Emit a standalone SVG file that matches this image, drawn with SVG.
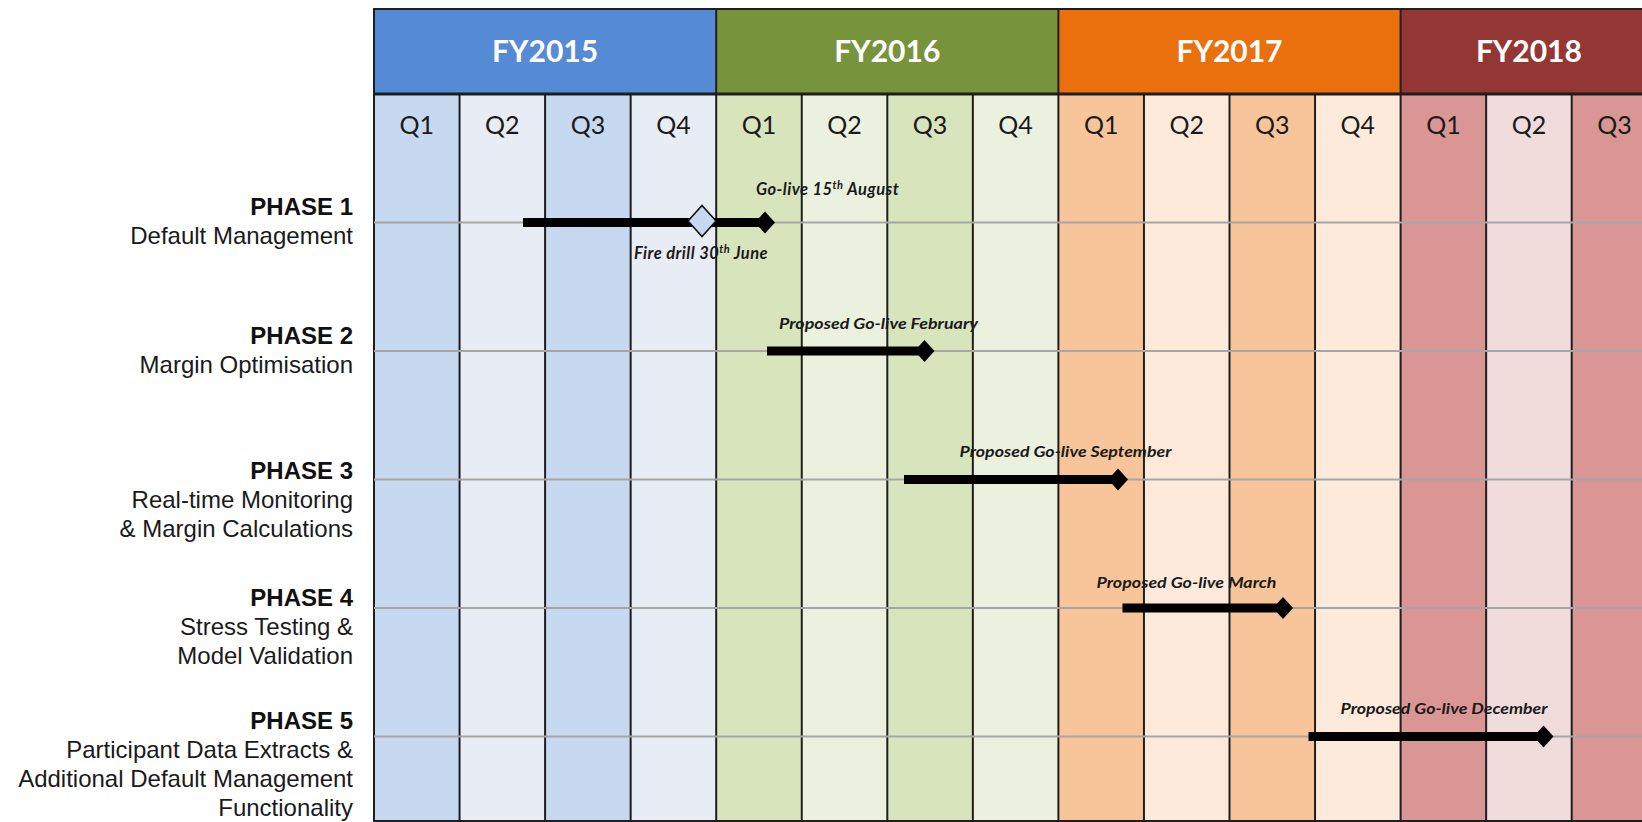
<svg xmlns="http://www.w3.org/2000/svg" width="1642" height="822" viewBox="0 0 1642 822">
<style>
.fy{font-family:Lato,"Liberation Sans",sans-serif;font-weight:700;font-size:30px;fill:#ffffff;text-anchor:middle}
.q{font-family:Lato,"Liberation Sans",sans-serif;font-size:25px;fill:#1a1a1a;text-anchor:middle}
.ph{font-family:"Liberation Sans",Arial,sans-serif;font-size:24px;fill:#1a1a1a;text-anchor:end}
.phb{font-weight:700;fill:#111111}
.ms{font-family:Lato,"Liberation Sans",sans-serif;font-weight:700;font-style:italic;font-size:15.5px;fill:#1a1a1a}
.ms2{font-size:16.5px;letter-spacing:0.45px}
.div{stroke:#1e1e1e;stroke-width:2}
.grid{stroke:#a6a6a6;stroke-width:2}
.bar{fill:#000000}
</style>
<rect width="1642" height="822" fill="#ffffff"/>
<g id="columns">
<rect x="374" y="94" width="85.55" height="727" fill="#c6d9f0"/>
<rect x="459.55" y="94" width="85.55" height="727" fill="#e8ecf5"/>
<rect x="545.1" y="94" width="85.55" height="727" fill="#c6d9f0"/>
<rect x="630.65" y="94" width="85.55" height="727" fill="#e8ecf5"/>
<rect x="716.2" y="94" width="85.55" height="727" fill="#d7e4bc"/>
<rect x="801.75" y="94" width="85.55" height="727" fill="#ebf1de"/>
<rect x="887.3" y="94" width="85.55" height="727" fill="#d7e4bc"/>
<rect x="972.85" y="94" width="85.55" height="727" fill="#ebf1de"/>
<rect x="1058.4" y="94" width="85.55" height="727" fill="#f8c59b"/>
<rect x="1143.95" y="94" width="85.55" height="727" fill="#fdeadb"/>
<rect x="1229.5" y="94" width="85.55" height="727" fill="#f8c59b"/>
<rect x="1315.05" y="94" width="85.55" height="727" fill="#fdeadb"/>
<rect x="1400.6" y="94" width="85.55" height="727" fill="#d99694"/>
<rect x="1486.15" y="94" width="85.55" height="727" fill="#f0dcdb"/>
<rect x="1571.7" y="94" width="85.55" height="727" fill="#d99694"/>
</g>
<g id="header">
<g id="fy2015"><rect x="374" y="9" width="342.2" height="85" fill="#558ad5"/><text class="fy" x="545.1" y="62">FY2015</text></g>
<g id="fy2016"><rect x="716.2" y="9" width="342.2" height="85" fill="#77933c"/><text class="fy" x="887.3" y="62">FY2016</text></g>
<g id="fy2017"><rect x="1058.4" y="9" width="342.2" height="85" fill="#ea700e"/><text class="fy" x="1229.5" y="62">FY2017</text></g>
<g id="fy2018"><rect x="1400.6" y="9" width="256.65" height="85" fill="#943634"/><text class="fy" x="1528.9" y="62">FY2018</text></g>
</g>
<g id="quarters">
<text class="q" x="416.8" y="134">Q1</text>
<text class="q" x="502.3" y="134">Q2</text>
<text class="q" x="587.9" y="134">Q3</text>
<text class="q" x="673.4" y="134">Q4</text>
<text class="q" x="759" y="134">Q1</text>
<text class="q" x="844.5" y="134">Q2</text>
<text class="q" x="930.1" y="134">Q3</text>
<text class="q" x="1015.6" y="134">Q4</text>
<text class="q" x="1101.2" y="134">Q1</text>
<text class="q" x="1186.7" y="134">Q2</text>
<text class="q" x="1272.3" y="134">Q3</text>
<text class="q" x="1357.8" y="134">Q4</text>
<text class="q" x="1443.4" y="134">Q1</text>
<text class="q" x="1528.9" y="134">Q2</text>
<text class="q" x="1614.5" y="134">Q3</text>
</g>
<g id="dividers">
<line class="div" x1="374" y1="8" x2="374" y2="822"/>
<line class="div" x1="459.55" y1="94" x2="459.55" y2="822"/>
<line class="div" x1="545.1" y1="94" x2="545.1" y2="822"/>
<line class="div" x1="630.65" y1="94" x2="630.65" y2="822"/>
<line class="div" x1="716.2" y1="9" x2="716.2" y2="822"/>
<line class="div" x1="801.75" y1="94" x2="801.75" y2="822"/>
<line class="div" x1="887.3" y1="94" x2="887.3" y2="822"/>
<line class="div" x1="972.85" y1="94" x2="972.85" y2="822"/>
<line class="div" x1="1058.4" y1="9" x2="1058.4" y2="822"/>
<line class="div" x1="1143.95" y1="94" x2="1143.95" y2="822"/>
<line class="div" x1="1229.5" y1="94" x2="1229.5" y2="822"/>
<line class="div" x1="1315.05" y1="94" x2="1315.05" y2="822"/>
<line class="div" x1="1400.6" y1="9" x2="1400.6" y2="822"/>
<line class="div" x1="1486.15" y1="94" x2="1486.15" y2="822"/>
<line class="div" x1="1571.7" y1="94" x2="1571.7" y2="822"/>
<line class="div" x1="373" y1="9" x2="1642" y2="9"/>
<line stroke="#1e1e1e" stroke-width="3" x1="373" y1="94" x2="1642" y2="94"/>
<line class="div" x1="373" y1="821" x2="1642" y2="821"/>
</g>
<g id="connectors">
<line class="grid" x1="374" y1="222.5" x2="1642" y2="222.5"/>
<line class="grid" x1="374" y1="351" x2="1642" y2="351"/>
<line class="grid" x1="374" y1="479.5" x2="1642" y2="479.5"/>
<line class="grid" x1="374" y1="608" x2="1642" y2="608"/>
<line class="grid" x1="374" y1="736.5" x2="1642" y2="736.5"/>
</g>
<g id="phase1">
<text class="ph" x="353"><tspan class="phb" x="353" y="215">PHASE 1</tspan><tspan x="353" y="244">Default Management</tspan></text>
<rect class="bar" x="523" y="218" width="242" height="9"/>
<polygon class="bar" points="755,222.5 765,211.5 775,222.5 765,233.5"/>
<polygon points="688,221 702,205.5 716,221 702,236.5" fill="#c6d9f0" stroke="#111111" stroke-width="1.6"/>
<text class="ms ms2" x="756" y="195">Go-live 15<tspan font-size="11" dy="-6">th</tspan><tspan dy="6"> August</tspan></text>
<text class="ms ms2" x="634" y="259">Fire drill 30<tspan font-size="11" dy="-6">th</tspan><tspan dy="6"> June</tspan></text>
</g>
<g id="phase2">
<text class="ph" x="353"><tspan class="phb" x="353" y="343.5">PHASE 2</tspan><tspan x="353" y="372.5">Margin Optimisation</tspan></text>
<rect class="bar" x="767" y="346.5" width="157.5" height="9"/>
<polygon class="bar" points="914.5,351 924.5,340 934.5,351 924.5,362"/>
<text class="ms" x="779" y="329" textLength="199" lengthAdjust="spacingAndGlyphs">Proposed Go-live February</text>
</g>
<g id="phase3">
<text class="ph" x="353"><tspan class="phb" x="353" y="478.5">PHASE 3</tspan><tspan x="353" y="507.5">Real-time Monitoring</tspan><tspan x="353" y="536.5">&amp; Margin Calculations</tspan></text>
<rect class="bar" x="904" y="475" width="214" height="9"/>
<polygon class="bar" points="1108,479.5 1118,468.5 1128,479.5 1118,490.5"/>
<text class="ms" x="959.5" y="457" textLength="212" lengthAdjust="spacingAndGlyphs">Proposed Go-live September</text>
</g>
<g id="phase4">
<text class="ph" x="353"><tspan class="phb" x="353" y="606">PHASE 4</tspan><tspan x="353" y="635">Stress Testing &amp;</tspan><tspan x="353" y="664">Model Validation</tspan></text>
<rect class="bar" x="1122.5" y="603.5" width="160.5" height="9"/>
<polygon class="bar" points="1273,608 1283,597 1293,608 1283,619"/>
<text class="ms" x="1096.5" y="588" textLength="180" lengthAdjust="spacingAndGlyphs">Proposed Go-live March</text>
</g>
<g id="phase5">
<text class="ph" x="353"><tspan class="phb" x="353" y="728.5">PHASE 5</tspan><tspan x="353" y="757.5">Participant Data Extracts &amp;</tspan><tspan x="353" y="786.5">Additional Default Management</tspan><tspan x="353" y="815.5">Functionality</tspan></text>
<rect class="bar" x="1308.5" y="732" width="235" height="9"/>
<polygon class="bar" points="1533.5,736.5 1543.5,725.5 1553.5,736.5 1543.5,747.5"/>
<text class="ms" x="1340.5" y="714" textLength="207" lengthAdjust="spacingAndGlyphs">Proposed Go-live December</text>
</g>
</svg>
